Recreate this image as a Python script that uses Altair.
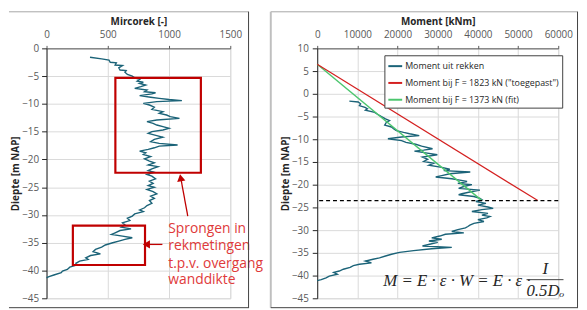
import altair as alt
import pandas as pd

# ---------------- data ----------------
left_depth = [-1.6, -1.9, -2.1, -2.5, -2.6, -3.0, -3.1, -3.5, -3.9, -4.0, -4.3, -4.7, -5.0, -5.3, -5.6,
              -5.9, -6.1, -6.3, -6.6, -6.9, -7.2, -7.5, -7.8, -8.0, -8.2, -8.5, -8.8, -9.0, -9.2, -9.4,
              -9.6, -9.9, -10.2, -10.6, -11.0, -11.4, -11.7, -12.0, -12.3, -12.6, -12.9, -13.2, -13.5,
              -13.8, -14.1, -14.4, -14.7, -15.0, -15.3, -15.7, -16.0, -16.4, -16.8, -17.1, -17.4, -17.6,
              -17.9, -18.2, -18.5, -18.8, -19.1, -19.5, -19.9, -20.3, -20.6, -21.0, -21.3, -21.7, -22.0,
              -22.3, -22.7, -23.0, -23.5, -23.9, -24.3, -24.7, -25.0, -25.4, -25.8, -26.2, -26.6, -27.0,
              -27.4, -27.9, -28.3, -28.7, -29.1, -29.4, -29.8, -30.2, -30.6, -31.0, -31.4, -31.8, -32.2,
              -32.5, -32.8, -33.2, -33.5, -33.8, -34.1, -34.4, -34.7, -35.0, -35.4, -35.8, -36.2, -36.6,
              -37.0, -37.3, -37.7, -38.0, -38.3, -38.7, -39.0, -39.4, -39.8, -40.1, -40.4, -40.8, -41.1, -41.3]
left_mircorek = [355, 450, 510, 520, 570, 560, 620, 590, 600, 650, 640, 660, 700, 720, 760,
                 740, 790, 760, 810, 770, 720, 820, 800, 890, 860, 760, 850, 920, 1000, 1105,
                 900, 790, 840, 880, 860, 950, 920, 980, 1010, 1085, 900, 820, 870,
                 900, 950, 1000, 950, 860, 830, 900, 950, 880, 850, 920, 1070, 920,
                 880, 830, 760, 810, 790, 850, 800, 840, 880, 830, 910, 860, 830,
                 880, 820, 860, 890, 840, 870, 830, 880, 820, 870, 900, 850, 880,
                 840, 860, 820, 800, 760, 790, 720, 700, 660, 680, 620, 640, 610,
                 690, 600, 560, 530, 620, 700, 640, 590, 540, 480, 450, 400, 380,
                 440, 360, 320, 340, 270, 240, 250, 190, 170, 130, 120, 60, 20, 0]

right_depth = [-1.6, -1.8, -2.2, -2.6, -3.0, -3.3, -3.6, -4.1, -4.5, -5.0, -5.5, -5.9, -6.3, -6.9, -7.3,
               -7.7, -8.1, -8.5, -8.8, -9.2, -9.5, -9.9, -10.3, -10.7, -11.1, -11.5, -12.1, -12.4, -12.6,
               -13.0, -13.4, -13.9, -14.4, -14.9, -15.3, -15.7, -16.2, -16.6, -16.9, -17.2, -17.6, -18.0,
               -18.3, -18.7, -19.0, -19.3, -19.7, -20.0, -20.4, -20.8, -21.2, -21.6, -22.0, -22.2, -22.6,
               -23.0, -23.3, -23.7, -24.1, -24.5, -24.9, -25.2, -25.5, -25.9, -26.3, -26.7, -27.0, -27.3,
               -27.7, -28.1, -28.5, -28.9, -29.2, -29.5, -29.9, -30.3, -30.6, -30.9, -31.3, -31.7, -32.0,
               -32.4, -32.7, -33.1, -33.5, -33.8, -34.1, -34.5, -34.9, -35.3, -35.7, -36.1, -36.4, -36.8,
               -37.2, -37.5, -37.8, -38.2, -38.6, -39.0, -39.3, -39.7, -40.1, -40.5, -40.9, -41.1]
right_moment = [8000, 10200, 10800, 10500, 11900, 12500, 12000, 14300, 15000, 16000, 17000, 18000, 17200, 16800, 18500,
                19000, 19700, 21500, 23000, 25400, 21000, 17600, 21000, 22100, 24500, 26000, 28700, 26500, 24200,
                27000, 29900, 26200, 27500, 26500, 29000, 27800, 31000, 33000, 31500, 38100, 33000, 31000,
                29500, 33500, 35500, 37300, 35000, 38500, 36500, 35200, 40500, 38000, 36000, 35200, 39000,
                40500, 41000, 39500, 42000, 40000, 42500, 43800, 41000, 38500, 42500, 41000, 43000, 42200,
                40000, 41500, 39000, 38000, 37500, 36900, 35000, 33500, 36500, 31900, 30500, 28500, 31000,
                27800, 30000, 28000, 26200, 33500, 28500, 24000, 20500, 18500, 17000, 15500, 13900, 12000,
                13500, 10500, 9000, 8200, 6500, 5500, 4100, 5000, 3000, 2200, 1000, 0]

series_names = ["Moment uit rekken", "Moment bij F = 1823 kN (\"toegepast\")", "Moment bij F = 1373 kN (fit)"]
series_colors = ["#1b6378", "#d42020", "#4cc66e"]
red_line_depth = [6.5, -23.5]
red_line_moment = [0, 54900]
green_line_depth = [6.5, -23.5]
green_line_moment = [0, 41000]
dash_depth = [-23.5]

boxes_x = [562, 215]
boxes_x2 = [1260, 804]
boxes_y = [-5.3, -31.9]
boxes_y2 = [-22.4, -39.0]

note_lines = ["Sprongen in", "rekmetingen", "t.p.v. overgang", "wanddikte"]
note_y = [-32.5, -35.6, -38.8, -41.8]
note_x = 994

left_x_ticks = [0, 500, 1000, 1500]
left_y_ticks = [-45, -40, -35, -30, -25, -20, -15, -10, -5, 0]
right_x_ticks = [0, 10000, 20000, 30000, 40000, 50000, 60000]
right_y_ticks = [-45, -40, -35, -30, -25, -20, -15, -10, -5, 0, 5, 10]

FONT = "Open Sans"
LBL = "#595959"
GRID = "#d9d9d9"
RED_BOX = "#c00000"
RED_TXT = "#e03a3a"


def x_axis(values, title):
    return alt.Axis(orient="top", values=values, tickCount=len(values), title=title, grid=True, gridColor=GRID,
                    format="d", labelFontSize=10, labelColor=LBL, labelFont=FONT, tickSize=3, tickColor="#595959",
                    domainColor="#595959", labelPadding=6, titleFontSize=10, titleFont=FONT,
                    titleFontWeight="bold", titleColor="#262626", titlePadding=3,
                    labelOverlap=False, labelFlush=False, labelBound=False)


def y_axis(values, label_pad, title_pad):
    return alt.Axis(values=values, tickCount=len(values), title="Diepte [m NAP]", grid=True, gridColor=GRID,
                    format="d", labelFontSize=10, labelColor=LBL, labelFont=FONT, tickSize=5, tickColor="#262626",
                    domainColor="#262626", labelPadding=label_pad, titleFontSize=10, titleFont=FONT,
                    titleFontWeight="bold", titleColor="#262626", titlePadding=title_pad,
                    labelOverlap=False, labelFlush=False, labelBound=False)


# ---------------- left panel ----------------
ldf = pd.DataFrame({"depth": left_depth, "val": left_mircorek, "idx": range(len(left_depth))})

lx = alt.Scale(domain=[0, 1500], nice=False)
ly = alt.Scale(domain=[-45, 0], nice=False)
lxa = x_axis(left_x_ticks, "Mircorek [-]")
lya = y_axis(left_y_ticks, 3, 1)

lcurve = alt.Chart(ldf).mark_line(color=series_colors[0], strokeWidth=1.4).encode(
    x=alt.X("val:Q", scale=lx, axis=lxa),
    y=alt.Y("depth:Q", scale=ly, axis=lya),
    order="idx:Q",
)

bdf = pd.DataFrame({"x": boxes_x, "x2": boxes_x2, "y": boxes_y, "y2": boxes_y2})
lboxes = alt.Chart(bdf).mark_rect(fill=None, stroke=RED_BOX, strokeWidth=2.2, filled=False).encode(
    x=alt.X("x:Q", scale=lx, axis=lxa), x2="x2:Q", y=alt.Y("y:Q", scale=ly, axis=lya), y2="y2:Q")

adf = pd.DataFrame({"x": [1153, 946], "x2": [1098, 830], "y": [-30.2, -35.3], "y2": [-23.6, -35.3]})
arrows = alt.Chart(adf).mark_rule(color=RED_BOX, strokeWidth=1.3).encode(
    x=alt.X("x:Q", scale=lx, axis=lxa), x2="x2:Q", y=alt.Y("y:Q", scale=ly, axis=lya), y2="y2:Q")
hdf = pd.DataFrame({"x": [1095, 815], "y": [-23.3, -35.3], "ang": [350, 270]})
heads = alt.Chart(hdf).mark_point(shape="triangle-up", filled=True, color=RED_BOX, size=70, opacity=1).encode(
    x=alt.X("x:Q", scale=lx, axis=lxa), y=alt.Y("y:Q", scale=ly, axis=lya), angle=alt.Angle("ang:Q", scale=None))

ndf = pd.DataFrame({"t": note_lines, "y": note_y, "x": [note_x] * len(note_lines)})
notes = alt.Chart(ndf).mark_text(align="left", baseline="middle", font=FONT, fontSize=14, color=RED_TXT).encode(
    x=alt.X("x:Q", scale=lx, axis=lxa), y=alt.Y("y:Q", scale=ly, axis=lya), text="t:N")

one = pd.DataFrame({"k": [0]})
lf_top = alt.Chart(one).mark_rule(color="#a6a6a6", strokeWidth=1).encode(
    x=alt.value(-38), x2=alt.value(205), y=alt.value(-37))
lf_right = alt.Chart(one).mark_rule(color="#404040", strokeWidth=1).encode(
    x=alt.value(204.5), y=alt.value(-37), y2=alt.value(262.5))
lf_bottom = alt.Chart(one).mark_rule(color="#404040", strokeWidth=1).encode(
    x=alt.value(-38), x2=alt.value(205), y=alt.value(262.5))

left = alt.layer(lcurve, lboxes, arrows, heads, notes, lf_top, lf_right, lf_bottom).properties(width=186, height=253)

# ---------------- right panel ----------------
rx = alt.Scale(domain=[0, 60000], nice=False)
ry = alt.Scale(domain=[-45, 10], nice=False)
rxa = x_axis(right_x_ticks, "Moment [kNm]")
rya = y_axis(right_y_ticks, 4, 1)
cscale = alt.Scale(domain=series_names, range=series_colors)

legend = alt.Legend(orient="none", legendX=342, legendY=7, title=None, fillColor="white", strokeColor="#404040",
                    padding=3, rowPadding=4, labelFontSize=9, labelFont=FONT, labelColor="#262626",
                    symbolType="stroke", symbolSize=196, symbolStrokeWidth=2, labelLimit=0, labelOffset=2)

rdf = pd.DataFrame({"depth": right_depth, "val": right_moment, "idx": range(len(right_depth)),
                    "s": [series_names[0]] * len(right_depth)})
reddf = pd.DataFrame({"depth": red_line_depth, "val": red_line_moment, "idx": [0, 1], "s": [series_names[1]] * 2})
grndf = pd.DataFrame({"depth": green_line_depth, "val": green_line_moment, "idx": [0, 1], "s": [series_names[2]] * 2})

rcurve = alt.Chart(rdf).mark_line(strokeWidth=1.4).encode(
    x=alt.X("val:Q", scale=rx, axis=rxa),
    y=alt.Y("depth:Q", scale=ry, axis=rya),
    color=alt.Color("s:N", scale=cscale, legend=legend),
    order="idx:Q",
)
rred = alt.Chart(reddf).mark_line(strokeWidth=1.2).encode(
    x=alt.X("val:Q", scale=rx, axis=rxa), y=alt.Y("depth:Q", scale=ry, axis=rya),
    color=alt.Color("s:N", scale=cscale, legend=legend), order="idx:Q")
rgrn = alt.Chart(grndf).mark_line(strokeWidth=1.4).encode(
    x=alt.X("val:Q", scale=rx, axis=rxa), y=alt.Y("depth:Q", scale=ry, axis=rya),
    color=alt.Color("s:N", scale=cscale, legend=legend), order="idx:Q")

dash = alt.Chart(pd.DataFrame({"y": dash_depth})).mark_rule(color="black", strokeDash=[4, 3], strokeWidth=1.2).encode(
    y=alt.Y("y:Q", scale=ry, axis=rya))

fdf = pd.DataFrame({"t": ["M = E · ε · W = E · ε ·"], "x": [16460], "y": [-41.1]})
formula = alt.Chart(fdf).mark_text(align="left", baseline="middle", font="Liberation Serif", fontStyle="italic",
                                   fontSize=17, color="#262626").encode(
    x=alt.X("x:Q", scale=rx, axis=rxa), y=alt.Y("y:Q", scale=ry, axis=rya), text="t:N")
frac_df = pd.DataFrame({"t": ["I", "0.5Dₒ"], "x": [56800, 56800], "y": [-38.5, -43.4]})
frac = alt.Chart(frac_df).mark_text(align="center", baseline="middle", font="Liberation Serif", fontStyle="italic",
                                    fontSize=17, color="#262626").encode(
    x=alt.X("x:Q", scale=rx, axis=rxa), y=alt.Y("y:Q", scale=ry, axis=rya), text="t:N")
fbar = alt.Chart(pd.DataFrame({"x": [52100], "x2": [61300], "y": [-40.9]})).mark_rule(color="#404040", strokeWidth=1).encode(
    x=alt.X("x:Q", scale=rx, axis=rxa), x2="x2:Q", y=alt.Y("y:Q", scale=ry, axis=rya))

rf_top = alt.Chart(one).mark_rule(color="#a6a6a6", strokeWidth=1).encode(
    x=alt.value(-47), x2=alt.value(264), y=alt.value(-37))
rf_left = alt.Chart(one).mark_rule(color="#bfbfbf", strokeWidth=2).encode(
    x=alt.value(-47), y=alt.value(-37), y2=alt.value(262.5))
rf_right = alt.Chart(one).mark_rule(color="#404040", strokeWidth=1).encode(
    x=alt.value(263.5), y=alt.value(-37), y2=alt.value(262.5))
rf_bottom = alt.Chart(one).mark_rule(color="#404040", strokeWidth=1).encode(
    x=alt.value(-47), x2=alt.value(264), y=alt.value(262.5))

right = alt.layer(rcurve, rgrn, rred, dash, formula, frac, fbar, rf_top, rf_left, rf_right, rf_bottom).properties(
    width=244, height=253)

chart = alt.hconcat(left, right, spacing=88, bounds="flush").properties(padding=0).configure_view(
    stroke=None).configure_axis(labelOverlap=False, labelFlush=False, labelBound=False).configure(background="white")

chart.save("out.html", embed_options={"renderer": "svg", "actions": False})
